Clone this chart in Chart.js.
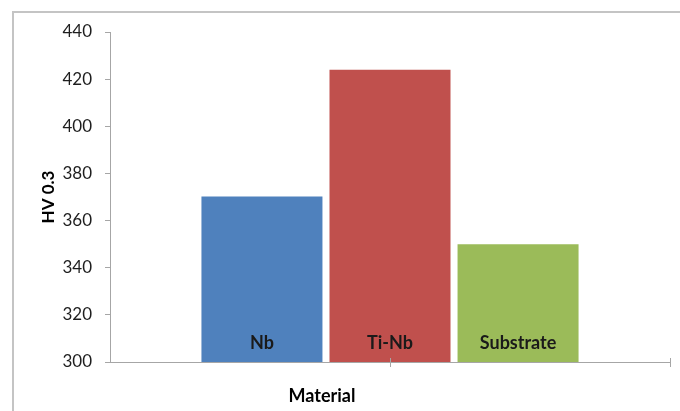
<!DOCTYPE html>
<html>
<head>
<meta charset="utf-8">
<script src="https://cdn.jsdelivr.net/npm/chart.js@4/dist/chart.umd.min.js"></script>
<style>
  html, body { margin: 0; padding: 0; background: #ffffff; }
  #wrap { width: 680px; height: 411px; position: relative; }
</style>
</head>
<body>
<div id="wrap"><canvas id="c" width="680" height="411"></canvas></div>
<script>
// Hardness per material (HV 0.3)
const materials = ['Nb', 'Ti-Nb', 'Substrate'];
const hardness = [370.2, 424, 350];
const barColors = ['#4F81BD', '#C0504D', '#9BBB59'];
const yTicks = [300, 320, 340, 360, 380, 400, 420, 440];
const xTitle = 'Material';
const yTitle = 'HV 0.3';

const FONT = 'Lato, "Open Sans", "DejaVu Sans", sans-serif';
const AXIS_GRAY = '#a6a6a6';

// Outer frame of the chart object
const framePlugin = {
  id: 'frame',
  beforeDraw(chart) {
    const ctx = chart.ctx;
    ctx.save();
    ctx.fillStyle = '#ffffff';
    ctx.fillRect(0, 0, chart.width, chart.height);
    ctx.strokeStyle = '#c4c4c4';
    ctx.lineWidth = 2;
    ctx.strokeRect(13, 12, chart.width + 20, chart.height + 20);
    ctx.restore();
  }
};

// Series names written inside the bars, plus x-axis tick marks and title
const labelsPlugin = {
  id: 'barNames',
  afterDraw(chart) {
    const ctx = chart.ctx;
    const area = chart.chartArea;
    const xs = chart.scales.x;
    ctx.save();
    // x-axis tick marks crossing the axis line
    ctx.strokeStyle = AXIS_GRAY;
    ctx.lineWidth = 1;
    [xs.getPixelForValue(0), area.right].forEach(px => {
      const x = Math.round(px) + 0.5;
      ctx.beginPath();
      ctx.moveTo(x, area.bottom - 4);
      ctx.lineTo(x, area.bottom + 5);
      ctx.stroke();
    });
    // dataset names near the bottom of each bar
    ctx.fillStyle = '#1a1a1a';
    ctx.font = 'bold 18px ' + FONT;
    ctx.textAlign = 'center';
    ctx.textBaseline = 'middle';
    chart.data.datasets.forEach((ds, i) => {
      const bar = chart.getDatasetMeta(i).data[0];
      ctx.fillText(ds.label, bar.x, area.bottom - 19);
    });
    // x-axis title
    ctx.fillStyle = '#000000';
    ctx.fillText(xTitle, 322, 396);
    ctx.restore();
  }
};

const datasets = materials.map((m, i) => ({
  label: m,
  data: [hardness[i]],
  backgroundColor: barColors[i],
  borderWidth: 0,
  categoryPercentage: 0.686,
  barPercentage: 0.945
}));

new Chart(document.getElementById('c'), {
  type: 'bar',
  data: { labels: [''], datasets },
  options: {
    responsive: false,
    animation: false,
    devicePixelRatio: 1,
    layout: { padding: { top: 32, right: 10, left: 0, bottom: 0 } },
    plugins: {
      legend: { display: false },
      tooltip: { enabled: false }
    },
    scales: {
      x: {
        grid: { display: false },
        border: { display: true, color: AXIS_GRAY, width: 1 },
        ticks: { display: false },
        afterFit(scale) { scale.height = 49; }
      },
      y: {
        min: 300,
        max: 440,
        afterBuildTicks(scale) { scale.ticks = yTicks.map(v => ({ value: v })); },
        grid: {
          drawOnChartArea: false,
          drawTicks: true,
          tickLength: 5,
          color: AXIS_GRAY
        },
        border: { display: true, color: AXIS_GRAY, width: 1 },
        ticks: {
          color: '#1e1e1e',
          font: { family: FONT, size: 17 },
          padding: 13
        },
        title: {
          display: true,
          text: yTitle,
          color: '#000000',
          font: { family: FONT, size: 17, weight: 'bold' },
          padding: { top: 38, bottom: 0 }
        },
        afterFit(scale) { scale.width = 110; }
      }
    }
  },
  plugins: [framePlugin, labelsPlugin]
});
</script>
</body>
</html>
